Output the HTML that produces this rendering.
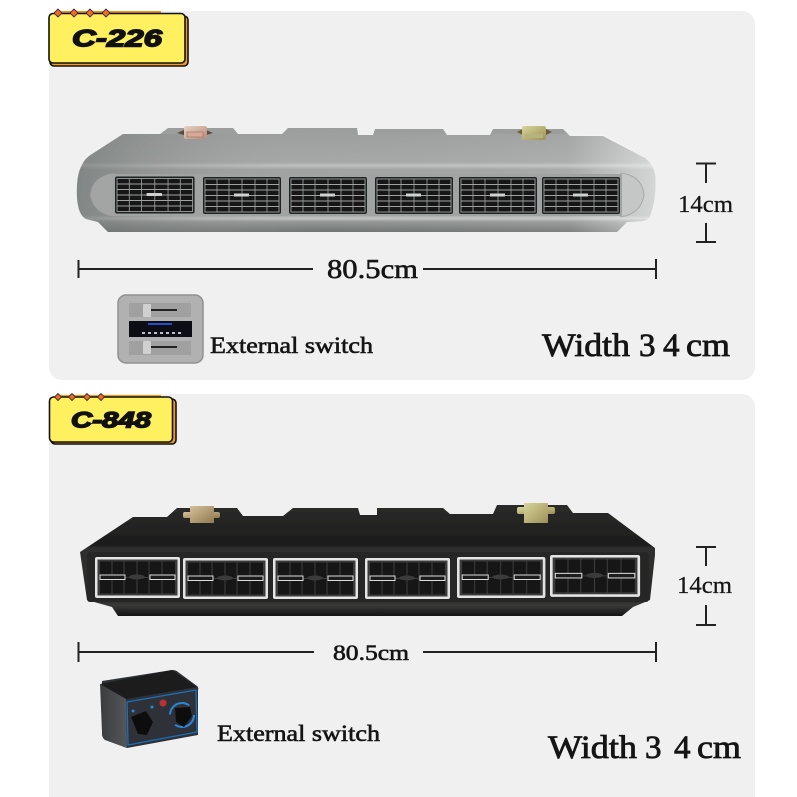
<!DOCTYPE html>
<html><head><meta charset="utf-8"><style>
html,body{margin:0;padding:0;background:#fff;width:797px;height:797px;overflow:hidden}
svg{display:block}
text{font-family:"Liberation Serif",serif;fill:#151515}
.b{font-family:"Liberation Sans",sans-serif;font-weight:bold;font-style:italic;fill:#111;stroke:#111;stroke-width:1.5}
.l{stroke:#222;stroke-width:2;fill:none}
.s{stroke:#151515;stroke-width:.6}
.w{stroke:#151515;stroke-width:.8}
</style></head><body>
<svg width="797" height="797" viewBox="0 0 797 797" xmlns="http://www.w3.org/2000/svg">
<defs>
<filter id="soft" x="-5%" y="-5%" width="110%" height="110%"><feGaussianBlur stdDeviation=".3"/></filter>
<linearGradient id="gt" x1="0" y1="0" x2="0" y2="1"><stop offset="0" stop-color="#9a9d9c"/><stop offset=".33" stop-color="#a5a8a7"/><stop offset=".36" stop-color="#bfc2c1"/><stop offset=".4" stop-color="#a0a3a2"/><stop offset=".84" stop-color="#a3a6a5"/><stop offset=".87" stop-color="#c2c5c4"/><stop offset=".9" stop-color="#959897"/><stop offset="1" stop-color="#707473"/></linearGradient>
<linearGradient id="gh" x1="0" y1="0" x2="1" y2="0"><stop offset="0" stop-color="#6d7170" stop-opacity=".6"/><stop offset=".4" stop-color="#a5a8a7" stop-opacity="0"/><stop offset=".85" stop-color="#fff" stop-opacity=".08"/><stop offset="1" stop-color="#fff" stop-opacity=".55"/></linearGradient>
<linearGradient id="bt" x1="0" y1="0" x2="0" y2="1"><stop offset="0" stop-color="#2b2b2a"/><stop offset=".36" stop-color="#1c1c1b"/><stop offset=".39" stop-color="#2f2f2e"/><stop offset=".86" stop-color="#2a2a29"/><stop offset=".9" stop-color="#3a3a39"/><stop offset="1" stop-color="#151515"/></linearGradient>
<linearGradient id="ku" x1="0" y1="0" x2="1" y2="1"><stop offset="0" stop-color="#e8d2c4"/><stop offset="1" stop-color="#b98a76"/></linearGradient>
<linearGradient id="ky" x1="0" y1="0" x2="1" y2="1"><stop offset="0" stop-color="#d8d59a"/><stop offset="1" stop-color="#9b9058"/></linearGradient>
<linearGradient id="ks" x1="0" y1="0" x2="1" y2="1"><stop offset="0" stop-color="#d5c09a"/><stop offset="1" stop-color="#8f7a50"/></linearGradient>
<linearGradient id="sl" x1="0" y1="0" x2="1" y2="0"><stop offset="0" stop-color="#3a3c3e"/><stop offset="1" stop-color="#55575a"/></linearGradient>
<g id="gv">
<rect x="0" y="0" width="78" height="37" rx="2" fill="#1f2121"/>
<rect x="2" y="2" width="74" height="33" fill="#151717" stroke="#8f9291" stroke-width="1"/>
<g stroke="#a0a3a2" stroke-width="1.100" fill="none">
<path d="M2 7.500H76M2 13H76M2 18.500H76M2 24H76M2 29.500H76"/>
<path d="M14 2V35M26 2V35M39 2V35M52 2V35M64 2V35" stroke-width=".8"/>
</g>
<rect x="31" y="16.500" width="15" height="3" fill="#cfd1d0"/>
</g>
<g id="bv">
<rect x="0" y="0" width="85" height="41" rx="2" fill="#e4e4e4"/>
<rect x="2.500" y="2.500" width="80" height="36" fill="#3a3a3a"/>
<rect x="5" y="4.500" width="75" height="32" fill="#121212"/>
<g stroke="#3e3e3e" stroke-width="1" fill="none"><path d="M17 4V37M29 4V37M42 4V37M54 4V37M67 4V37M5 20.500H80"/></g>
<rect x="5" y="18" width="25" height="4.500" fill="#1a1a1a" stroke="#dcdcdc" stroke-width="1"/>
<rect x="55" y="18" width="25" height="4.500" fill="#1a1a1a" stroke="#dcdcdc" stroke-width="1"/>
<ellipse cx="42" cy="20" rx="8" ry="2.500" fill="#3a3a3a"/>
</g>
</defs>

<rect x="49" y="11" width="706" height="369" rx="13" fill="#f0f0f0"/>
<rect x="49" y="394" width="706" height="420" rx="13" fill="#f0f0f0"/>

<!-- badge 1 -->
<path d="M58 12H161" stroke="#f0941e" stroke-width="2"/>
<rect x="50" y="16" width="138" height="50" rx="4" fill="#f39a1d" stroke="#111" stroke-width="1.600"/>
<rect x="49" y="13.500" width="136" height="49.500" rx="4" fill="#fff05f" stroke="#111" stroke-width="1.600"/>
<g fill="#f0692a" stroke="#222" stroke-width=".8">
<path d="M58 9l4 4-4 4-4-4zM74 9l4 4-4 4-4-4zM90 9l4 4-4 4-4-4zM106 9l4 4-4 4-4-4z"/>
</g>
<text class="b" x="72" y="46.500" font-size="24" textLength="90" lengthAdjust="spacingAndGlyphs">C-226</text>

<!-- gray unit -->
<g filter="url(#soft)">
<path d="M123 134H160L168 128H233L238 134H282L288 128H357L358 135H373L375 129H443L447 135H490L493 129H563L570 136H603L645 158Q655 166 655.500 180Q656 200 650 216Q648 220 642 221L627 222L617 232H108L98 222L86 219Q78 215 77 197Q76 175 82 165Q85 158 92 154Z" fill="url(#gt)"/>
<path d="M123 134H603L645 158Q655 166 655.500 180Q656 200 650 216Q648 220 642 221L627 222L617 232H108L98 222L86 219Q78 215 77 197Q76 175 82 165Q85 158 92 154Z" fill="url(#gh)"/>
<path d="M115 173Q92 175 90 195Q93 214 115 217" fill="#a2a5a4" stroke="#8d9190" stroke-width=".8"/>
<path d="M620 173Q642 175 644 195Q641 214 620 217" fill="#c4c7c6" stroke="#9ea1a0" stroke-width=".8"/>
<rect x="112" y="174" width="510" height="42" fill="#a0a3a2"/>
<use href="#gv" transform="translate(115 176.500) scale(1.02 1)"/>
<use href="#gv" x="203" y="177"/>
<use href="#gv" x="289" y="177"/>
<use href="#gv" x="375" y="177"/>
<use href="#gv" x="459" y="177"/>
<use href="#gv" x="542" y="177"/>
<path d="M177 133L184 130H206L213 133L206 135H184Z" fill="#5a4a40"/>
<rect x="184" y="126" width="23" height="13" rx="2" fill="url(#ku)"/>
<rect x="187" y="132" width="16" height="5" fill="#d9a898" stroke="#9b7a6c" stroke-width=".7"/>
<path d="M517 132L523 129H546L552 132L546 135H523Z" fill="#6a5a30"/>
<rect x="522" y="126" width="24" height="14" rx="2" fill="url(#ky)"/>
<rect x="525" y="134" width="18" height="4" fill="#b7b37c"/>
</g>

<!-- dims 1 -->
<path class="l" d="M78.500 260V278M78 269H313M423 269H656M656 259V279"/>
<path class="l" d="M696 163.500H716M706 163V183M706 223V242M696 242H716"/>
<text class="s" x="327" y="278" font-size="27" textLength="91" lengthAdjust="spacingAndGlyphs">80.5cm</text>
<text x="678" y="212" font-size="24" textLength="55" lengthAdjust="spacingAndGlyphs" stroke="#151515" stroke-width=".25">14cm</text>
<text class="s" x="210" y="353" font-size="23" textLength="163" lengthAdjust="spacingAndGlyphs">External switch</text>
<text class="w" y="356" font-size="33"><tspan x="542" textLength="88" lengthAdjust="spacingAndGlyphs">Width</tspan> <tspan x="639">3</tspan> <tspan x="663">4</tspan> <tspan x="686" textLength="44" lengthAdjust="spacingAndGlyphs">cm</tspan></text>

<!-- gray switch -->
<g filter="url(#soft)">
<rect x="118" y="295" width="85" height="68" rx="8" fill="#b0b1b0" stroke="#8f908f" stroke-width="1.500"/>
<rect x="129" y="303" width="62" height="14" fill="#9fa09f"/>
<rect x="129" y="341" width="62" height="14" fill="#9fa09f"/>
<path d="M150 310H177M150 347H177" stroke="#222" stroke-width="2"/>
<rect x="143" y="304" width="8" height="13" rx="1" fill="#cfd0cf"/>
<rect x="143" y="341" width="8" height="13" rx="1" fill="#cfd0cf"/>
<rect x="129" y="321" width="63" height="16" fill="#0d0f18"/>
<path d="M148 324H172" stroke="#2650c8" stroke-width="2"/>
<path d="M142 333H182" stroke="#bcc0cc" stroke-width="2" stroke-dasharray="3 3"/>
</g>

<!-- badge 2 -->
<path d="M58 396H161" stroke="#f0a020" stroke-width="2"/>
<rect x="51" y="399" width="125" height="45" rx="4" fill="#f39a1d" stroke="#111" stroke-width="1.600"/>
<rect x="49.500" y="397" width="123" height="45" rx="4" fill="#fff05f" stroke="#111" stroke-width="1.600"/>
<g fill="#f0692a" stroke="#222" stroke-width=".8">
<path d="M58 393.500l3.500 3.500-3.500 3.500-3.500-3.500zM72 393.500l3.500 3.500-3.500 3.500-3.500-3.500zM87 393.500l3.500 3.500-3.500 3.500-3.500-3.500zM101 393.500l3.500 3.500-3.500 3.500-3.500-3.500z"/>
</g>
<text class="b" x="71" y="427.500" font-size="22" textLength="80" lengthAdjust="spacingAndGlyphs">C-848</text>

<!-- black unit -->
<g filter="url(#soft)">
<path d="M133 517H167L177 508H237L243 516H283L293 508H358L360 515H377V508H443L450 514H493L497 505H567L573 513H608L655 548V555L650 600L633 607L622 616H118L112 607L87 600L80 552Z" fill="url(#bt)"/>
<rect x="87" y="552" width="562" height="50" rx="3" fill="#282827"/>
<use href="#bv" x="95" y="557"/>
<use href="#bv" x="183" y="558"/>
<use href="#bv" x="273" y="558"/>
<use href="#bv" x="365" y="558"/>
<use href="#bv" transform="translate(457 557) scale(1.04 1)"/>
<use href="#bv" transform="translate(550 555) scale(1.06 1.02)"/>
<rect x="183" y="512" width="37" height="6" rx="2" fill="url(#ks)"/>
<rect x="190" y="506" width="24" height="17" fill="url(#ks)"/>
<rect x="517" y="507" width="38" height="7" rx="2" fill="url(#ky)"/>
<rect x="524" y="503" width="24" height="20" fill="url(#ky)"/>
</g>

<!-- dims 2 -->
<path class="l" d="M78.500 642V662M78 652H314M423 652H656M656 642V662"/>
<path class="l" d="M696 547H716M706 547V566M706 605V625M696 625H716"/>
<text class="s" x="333" y="660" font-size="22" textLength="76" lengthAdjust="spacingAndGlyphs">80.5cm</text>
<text x="677" y="593" font-size="24" textLength="55" lengthAdjust="spacingAndGlyphs" stroke="#151515" stroke-width=".25">14cm</text>
<text class="s" x="217" y="741" font-size="23" textLength="163" lengthAdjust="spacingAndGlyphs">External switch</text>
<text class="w" y="758" font-size="33"><tspan x="548" textLength="89" lengthAdjust="spacingAndGlyphs">Width</tspan> <tspan x="645">3</tspan> <tspan x="674">4</tspan> <tspan x="697" textLength="44" lengthAdjust="spacingAndGlyphs">cm</tspan></text>

<!-- black switch -->
<g filter="url(#soft)">
<path d="M102 681L172 670Q176 670 178 672L197 686Q199 688 198 690V735L127 748L106 740Q102 738 102 734Z" fill="#2f3237"/>
<path d="M100 684L172 670L197 687L126 699Z" fill="#1c1d1f"/>
<path d="M100 684L126 699L127 748L105 740Q102 738 102 732Z" fill="url(#sl)"/>
<path d="M127 702L196 690L197 732L128 745Z" fill="none" stroke="#1d6fb8" stroke-width="1.300"/>
<path d="M131 717L146 711L153 722L147 735L138 734Z" fill="#0e0e10"/>
<circle cx="182" cy="715" r="12" fill="none" stroke="#2a86d8" stroke-width="2" stroke-dasharray="26 12"/>
<path d="M175 708L190 707L192 716L184 727L176 722Z" fill="#0e0e10"/>
<circle cx="163" cy="703" r="3.500" fill="#b83030"/>
<circle cx="133" cy="711" r="1.500" fill="#2a86d8"/><circle cx="152" cy="707" r="1.500" fill="#2a86d8"/>
</g>
</svg>
</body></html>
